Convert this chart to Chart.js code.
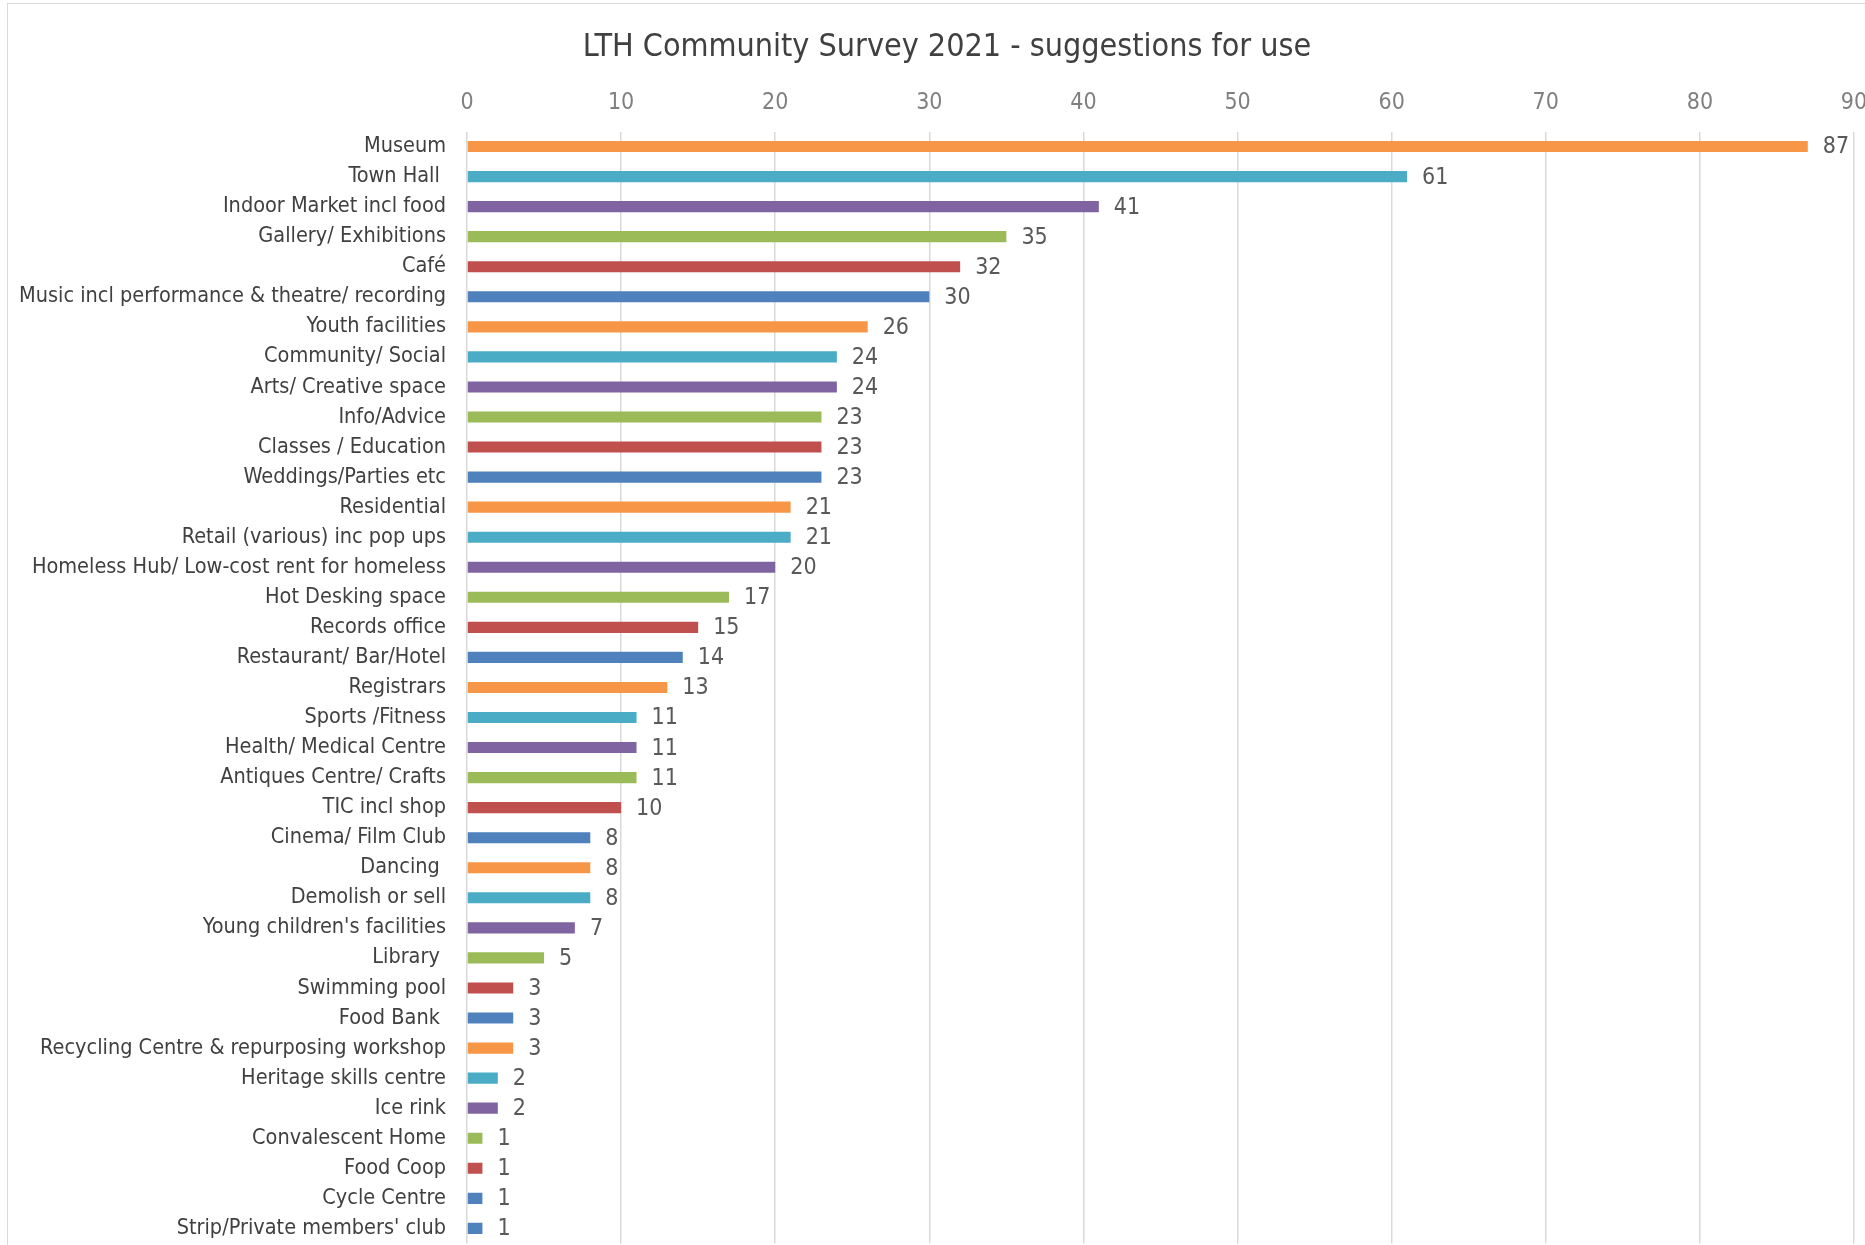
<!DOCTYPE html>
<html>
<head>
<meta charset="utf-8">
<script src="https://cdn.jsdelivr.net/npm/chart.js@4"></script>
<style>
  html, body { margin: 0; padding: 0; background: #fff; overflow: hidden; width: 1865px; height: 1245px; }
  #frame { position: absolute; left: 7px; top: 3px; width: 2000px; height: 1400px; border: 1px solid #d9d9d9; box-sizing: border-box; }
  #chart { position: absolute; left: 0; top: 0; }
</style>
</head>
<body>
<div id="frame"></div>
<canvas id="chart" width="1960" height="1300"></canvas>
<script>
// LTH survey - suggestions for use (horizontal bar)

const TITLE = 'LTH Community Survey 2021 - suggestions for use';

const categories = [
  'Museum', 'Town Hall ', 'Indoor Market incl food', 'Gallery/ Exhibitions', 'Café',
  'Music incl performance & theatre/ recording', 'Youth facilities', 'Community/ Social',
  'Arts/ Creative space', 'Info/Advice', 'Classes / Education', 'Weddings/Parties etc',
  'Residential', 'Retail (various) inc pop ups', 'Homeless Hub/ Low-cost rent for homeless',
  'Hot Desking space', 'Records office', 'Restaurant/ Bar/Hotel', 'Registrars',
  'Sports /Fitness', 'Health/ Medical Centre', 'Antiques Centre/ Crafts', 'TIC incl shop',
  'Cinema/ Film Club', 'Dancing ', 'Demolish or sell', "Young children's facilities",
  'Library ', 'Swimming pool', 'Food Bank ', 'Recycling Centre & repurposing workshop',
  'Heritage skills centre', 'Ice rink', 'Convalescent Home', 'Food Coop', 'Cycle Centre',
  "Strip/Private members' club",
];

const counts = [
  87, 61, 41, 35, 32, 30, 26, 24, 24, 23, 23, 23, 21, 21, 20, 17, 15, 14, 13,
  11, 11, 11, 10, 8, 8, 8, 7, 5, 3, 3, 3, 2, 2, 1, 1, 1, 1,
];

const xTicks = [0, 10, 20, 30, 40, 50, 60, 70, 80, 90];

// excel office palette, one per bar
const ORANGE = '#f79646', TEAL = '#4bacc6', PURPLE = '#8064a2', GREEN = '#9bbb59', RED = '#c0504d', BLUE = '#4f81bd';
const barColors = [
  ORANGE, TEAL, PURPLE, GREEN, RED, BLUE,
  ORANGE, TEAL, PURPLE, GREEN, RED, BLUE,
  ORANGE, TEAL, PURPLE, GREEN, RED, BLUE,
  ORANGE, TEAL, PURPLE, GREEN, RED, BLUE,
  ORANGE, TEAL, PURPLE, GREEN, RED, BLUE,
  ORANGE, TEAL, PURPLE, GREEN, RED, BLUE, BLUE,
];

const FONT = '"Liberation Sans Narrow", "DejaVu Sans Condensed", sans-serif';

// value labels at the end of each bar
const valueLabels = {
  id: 'valueLabels',
  afterDatasetsDraw(chart) {
    const ctx = chart.ctx;
    const meta = chart.getDatasetMeta(0);
    ctx.save();
    ctx.font = `23px ${FONT}`;
    ctx.fillStyle = '#595959';
    ctx.textAlign = 'left';
    ctx.textBaseline = 'middle';
    meta.data.forEach((bar, i) => {
      ctx.fillText(String(counts[i]), bar.x + 15, bar.y + 1);
    });
    ctx.restore();
  },
};

// title is centred on the whole excel frame, not on the canvas, so draw it here
const frameTitle = {
  id: 'frameTitle',
  afterDraw(chart) {
    const ctx = chart.ctx;
    ctx.save();
    ctx.font = `32px ${FONT}`;
    ctx.fillStyle = '#404040';
    ctx.textAlign = 'center';
    ctx.textBaseline = 'middle';
    ctx.fillText(TITLE, 947, 48);
    ctx.restore();
  },
};

new Chart(document.getElementById('chart'), {
  type: 'bar',
  data: {
    labels: categories,
    datasets: [{
      data: counts,
      backgroundColor: barColors,
      borderWidth: 0,
      categoryPercentage: 1,
      barPercentage: 0.37,
    }],
  },
  options: {
    indexAxis: 'y',
    responsive: false,
    animation: false,
    devicePixelRatio: 1,
    layout: { padding: { left: 0, top: 0, right: 106, bottom: 56.6 } },
    plugins: {
      legend: { display: false },
      tooltip: { enabled: false },
      title: { display: false },
    },
    scales: {
      x: {
        position: 'top',
        min: 0,
        max: 90,
        afterBuildTicks: (scale) => { scale.ticks = xTicks.map(v => ({ value: v })); },
        afterFit: (scale) => { scale.height = 131.5; },
        ticks: { color: '#808080', font: { family: FONT, size: 23 }, padding: 15 },
        grid: { color: '#d9d9d9', lineWidth: 1.5, drawTicks: false },
        border: { display: false },
      },
      y: {
        afterFit: (scale) => { scale.width = 467; },
        ticks: { color: '#404040', font: { family: FONT, size: 21.5 }, padding: 21, autoSkip: false },
        grid: { display: false, drawTicks: false },
        border: { display: false },
      },
    },
  },
  plugins: [valueLabels, frameTitle],
});
</script>
</body>
</html>
